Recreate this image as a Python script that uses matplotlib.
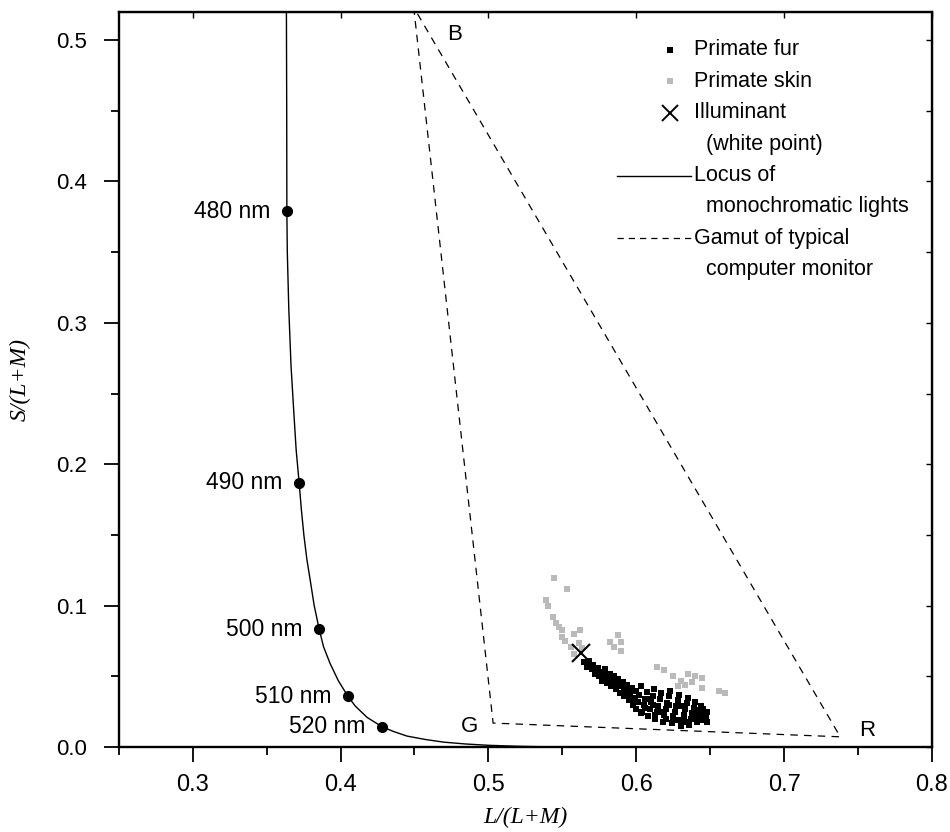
import numpy as np
import matplotlib.pyplot as plt
from matplotlib.ticker import MultipleLocator

# spectral locus
locus_l = [0.3634, 0.3636, 0.3637, 0.3640, 0.3650, 0.3665, 0.3685, 0.3700, 0.3720,
           0.3735, 0.3752, 0.3772, 0.3795, 0.3822, 0.3856, 0.3885, 0.3930, 0.3985,
           0.4049, 0.4100, 0.4180, 0.4281, 0.4360, 0.4450, 0.4580, 0.4700, 0.4850,
           0.5000, 0.5200, 0.5400, 0.6000, 0.7500]
locus_s = [0.5200, 0.4500, 0.3790, 0.3500, 0.3100, 0.2700, 0.2350, 0.2100, 0.1870,
           0.1680, 0.1500, 0.1330, 0.1180, 0.1000, 0.0832, 0.0710, 0.0590, 0.0470,
           0.0361, 0.0290, 0.0210, 0.0144, 0.0110, 0.0078, 0.0053, 0.0035, 0.0022,
           0.0013, 0.0006, 0.0002, 0.0000, 0.0000]

# marked wavelengths
wl_names = ["480 nm", "490 nm", "500 nm", "510 nm", "520 nm"]
wl_l = [0.3637, 0.3720, 0.3856, 0.4049, 0.4281]
wl_s = [0.3790, 0.1870, 0.0832, 0.0361, 0.0144]

# monitor gamut corners B, G, R
gamut_names = ["B", "G", "R"]
gamut_l = [0.4495, 0.5032, 0.7380]
gamut_s = [0.5230, 0.0170, 0.0073]
gamut_label_l = [0.4770, 0.4875, 0.7560]
gamut_label_s = [0.5035, 0.0145, 0.0115]

# illuminant (white point)
white_l = 0.5624
white_s = 0.0665

# primate fur
fur_l = [0.565, 0.567, 0.568, 0.570, 0.571, 0.572, 0.574, 0.575, 0.576, 0.577,
         0.578, 0.579, 0.580, 0.581, 0.582, 0.583, 0.584, 0.585, 0.586, 0.587,
         0.588, 0.589, 0.590, 0.591, 0.592, 0.593, 0.594, 0.595, 0.596, 0.597,
         0.598, 0.599, 0.600, 0.600, 0.601, 0.602, 0.603, 0.604, 0.605, 0.606,
         0.607, 0.608, 0.609, 0.610, 0.611, 0.612, 0.613, 0.614, 0.615, 0.616,
         0.617, 0.618, 0.619, 0.620, 0.621, 0.622, 0.623, 0.624, 0.625, 0.626,
         0.627, 0.628, 0.629, 0.630, 0.631, 0.632, 0.633, 0.634, 0.635, 0.636,
         0.637, 0.638, 0.639, 0.640, 0.641, 0.642, 0.643, 0.644, 0.645, 0.646,
         0.647, 0.648, 0.648, 0.584, 0.592, 0.598, 0.606, 0.613, 0.620, 0.627,
         0.634, 0.640, 0.603, 0.611, 0.618, 0.625, 0.632, 0.639, 0.645, 0.596,
         0.610, 0.622, 0.631]
fur_s = [0.060, 0.057, 0.061, 0.055, 0.058, 0.052, 0.056, 0.050, 0.053, 0.047,
         0.051, 0.055, 0.045, 0.049, 0.052, 0.043, 0.047, 0.050, 0.041, 0.045,
         0.048, 0.038, 0.043, 0.046, 0.036, 0.040, 0.044, 0.033, 0.038, 0.042,
         0.030, 0.035, 0.040, 0.027, 0.032, 0.037, 0.043, 0.025, 0.030, 0.034,
         0.039, 0.022, 0.027, 0.032, 0.036, 0.041, 0.020, 0.025, 0.029, 0.034,
         0.038, 0.018, 0.023, 0.027, 0.031, 0.036, 0.040, 0.017, 0.021, 0.025,
         0.029, 0.033, 0.037, 0.015, 0.019, 0.023, 0.027, 0.031, 0.035, 0.016,
         0.020, 0.024, 0.028, 0.032, 0.018, 0.022, 0.026, 0.029, 0.019, 0.023,
         0.021, 0.018, 0.025, 0.044, 0.039, 0.033, 0.028, 0.023, 0.020, 0.019,
         0.018, 0.021, 0.024, 0.030, 0.025, 0.022, 0.021, 0.026, 0.027, 0.036,
         0.034, 0.030, 0.029]

# primate skin
skin_l = [0.5447, 0.5529, 0.5393, 0.5400, 0.5440, 0.5460, 0.5495, 0.5495, 0.5576,
          0.5617, 0.5560, 0.5610, 0.5580, 0.5630, 0.5520, 0.5480, 0.5875, 0.5900,
          0.5820, 0.5850, 0.5895, 0.6140, 0.6190, 0.6444, 0.6444, 0.6560, 0.6600,
          0.6250, 0.6300, 0.6350, 0.6380, 0.6400, 0.6280, 0.6330]
skin_s = [0.1195, 0.1117, 0.1040, 0.1000, 0.0920, 0.0877, 0.0827, 0.0780, 0.0800,
          0.0827, 0.0707, 0.0735, 0.0660, 0.0700, 0.0750, 0.0850, 0.0790, 0.0740,
          0.0740, 0.0707, 0.0680, 0.0566, 0.0545, 0.0488, 0.0417, 0.0400, 0.0380,
          0.0500, 0.0470, 0.0520, 0.0460, 0.0500, 0.0430, 0.0440]

plt.rcParams['font.family'] = ['Liberation Sans', 'DejaVu Sans']

fig = plt.figure(figsize=(9.5, 8.32), dpi=100)
ax = fig.add_axes([0.125, 0.102, 0.856, 0.884])

ax.plot(locus_l, locus_s, color='black', lw=1.0)
ax.plot(wl_l, wl_s, 'o', color='black', ms=7)
for name, l, s in zip(wl_names, wl_l, wl_s):
    ax.annotate(name, (l, s), xytext=(-12, 0), textcoords='offset points',
                ha='right', va='center', fontsize=16.5)

gl = gamut_l + [gamut_l[0]]
gs = gamut_s + [gamut_s[0]]
ax.plot(gl, gs, color='black', lw=0.9, dashes=(6, 5))
for name, l, s in zip(gamut_names, gamut_label_l, gamut_label_s):
    ax.text(l, s, name, fontsize=16, ha='center', va='center')

ax.plot(skin_l, skin_s, 's', color='#bababa', ms=4.8, mew=0)
ax.plot(fur_l, fur_s, 's', color='black', ms=4.6, mew=0)
ax.plot([white_l], [white_s], 'x', color='black', ms=13, mew=1.5)

ax.set_xlim(0.25, 0.8)
ax.set_ylim(0.0, 0.52)
ax.xaxis.set_major_locator(MultipleLocator(0.1))
ax.xaxis.set_minor_locator(MultipleLocator(0.05))
ax.yaxis.set_major_locator(MultipleLocator(0.1))
ax.yaxis.set_minor_locator(MultipleLocator(0.05))
ax.xaxis.set_major_formatter(plt.FormatStrFormatter('%.1f'))
ax.yaxis.set_major_formatter(plt.FormatStrFormatter('%.1f'))
ax.tick_params(which='major', direction='out', length=11, width=1.3, labelsize=16)
ax.tick_params(axis='y', which='major', pad=12)
ax.tick_params(axis='x', which='major', pad=8, labelsize=17)
ax.tick_params(which='minor', direction='out', length=6, width=1.3)
for lab in ax.get_xticklabels():
    lab.set_family(['Liberation Sans Narrow', 'Liberation Sans'])
for sp in ax.spines.values():
    sp.set_linewidth(1.7)

# inner ticks on top and right
ax_r = ax.secondary_yaxis('right')
ax_r.yaxis.set_major_locator(MultipleLocator(0.05))
ax_r.tick_params(direction='in', length=4, width=1.0, labelright=False)
ax_t = ax.secondary_xaxis('top')
ax_t.xaxis.set_major_locator(MultipleLocator(0.1))
ax_t.tick_params(direction='in', length=4, width=1.0, labeltop=False)

ax.set_xlabel("L/(L+M)", family='Liberation Serif', style='italic', fontsize=17, labelpad=8)
ax.set_ylabel("S/(L+M)", family='Liberation Serif', style='italic', fontsize=17, labelpad=18)

# legend drawn by hand so the handle sits on the first text line
tx = 0.708
hx = tx - 0.030
ytop = 0.948
step = 0.0427
fs = 15.5
tr = ax.transAxes
ax.plot([hx], [ytop], 's', color='black', ms=4.6, mew=0, transform=tr)
ax.text(tx, ytop, "Primate fur", transform=tr, va='center', fontsize=fs)
ax.plot([hx], [ytop - step], 's', color='#bababa', ms=4.8, mew=0, transform=tr)
ax.text(tx, ytop - step, "Primate skin", transform=tr, va='center', fontsize=fs)
ax.plot([hx], [ytop - 2 * step], 'x', color='black', ms=12, mew=1.4, transform=tr)
ax.text(tx, ytop - 2 * step, "Illuminant", transform=tr, va='center', fontsize=fs)
ax.text(tx, ytop - 3 * step, "  (white point)", transform=tr, va='center', fontsize=fs)
ax.plot([tx - 0.095, tx - 0.004], [ytop - 4 * step] * 2, color='black', lw=1.0, transform=tr)
ax.text(tx, ytop - 4 * step, "Locus of", transform=tr, va='center', fontsize=fs)
ax.text(tx, ytop - 5 * step, "  monochromatic lights", transform=tr, va='center', fontsize=fs)
ax.plot([tx - 0.095, tx - 0.004], [ytop - 6 * step] * 2, color='black', lw=0.9,
        dashes=(5, 4), transform=tr)
ax.text(tx, ytop - 6 * step, "Gamut of typical", transform=tr, va='center', fontsize=fs)
ax.text(tx, ytop - 7 * step, "  computer monitor", transform=tr, va='center', fontsize=fs)

fig.savefig("out.png", dpi=100)
